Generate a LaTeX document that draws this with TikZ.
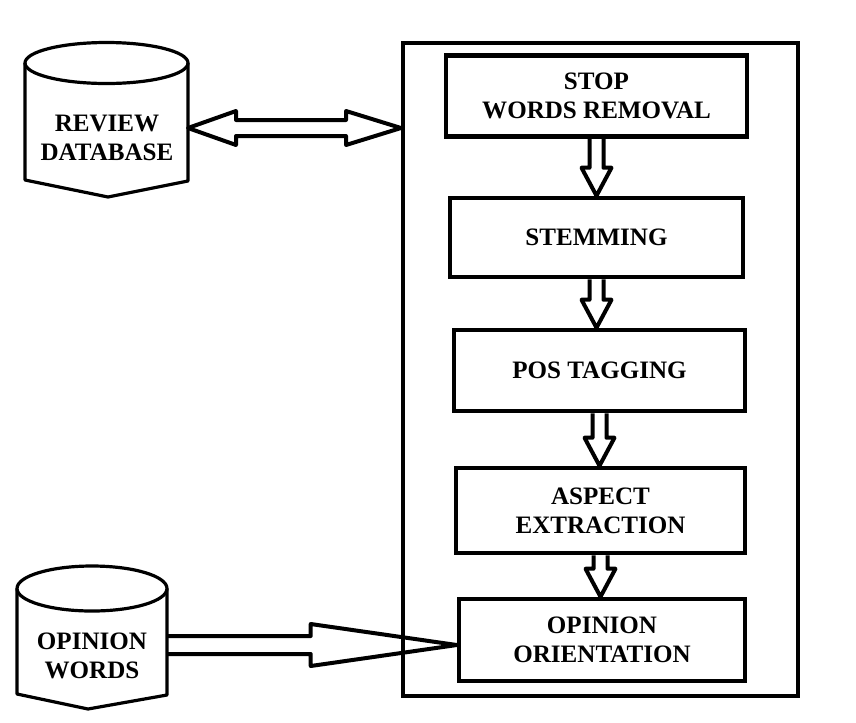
\documentclass[tikz,border=0pt]{standalone}
\usepackage{fontspec}
\setmainfont{Liberation Serif}
\usetikzlibrary{calc}

\begin{document}
\begin{tikzpicture}[x=0.75pt,y=-0.75pt,every node/.style={font=\fontsize{18.8}{21.75}\selectfont\bfseries,align=center},
    stage/.style={draw,rectangle,line width=3.4pt,inner sep=0pt},
    blk/.style={draw,line width=3pt,line join=round},
    dbline/.style={draw,line width=2.4pt,line join=round}]
            % El marco fija el tamano de la figura
            \useasboundingbox (0,0) rectangle (856,722);
            \node[draw,line width=3pt,minimum width=296.25pt,minimum height=489.75pt] (frame) at (600.5,369.5) {};

            % Etapas del proceso
            \node[stage,minimum width=225.75pt,minimum height=60.75pt] (stop) at (596.5,96) {STOP\\WORDS REMOVAL};
            \node[stage,minimum width=219.75pt,minimum height=59.25pt] (stem) at (596.5,237.5) {STEMMING};
            \node[stage,minimum width=218.25pt,minimum height=60.75pt] (pos) at (599.5,370.5) {POS TAGGING};
            \node[stage,minimum width=216.75pt,minimum height=63.75pt] (aspect) at (600.5,510.5) {ASPECT\\EXTRACTION};
            \node[stage,minimum width=214.5pt,minimum height=61.5pt] (orient) at (602,640) {OPINION\\ORIENTATION};

            % Bases de datos
            \draw[dbline] (106.5,63) ellipse [x radius=81.5,y radius=20.5];
            \draw[dbline] (25,63) -- (25,180) -- (108,197) -- (188,181) -- (188,63);
            \node (rdb) at (107,138) {REVIEW\\DATABASE};
            \coordinate (rdbport) at (188,128);

            \draw[dbline] (92,588.5) ellipse [x radius=75,y radius=22.5];
            \draw[dbline] (17,588.5) -- (17,694) -- (88,709) -- (167,695) -- (167,588.5);
            \node (ow) at (92,656) {OPINION\\WORDS};
            \coordinate (owport) at (167,645);

            % Flechas huecas entre etapas
            \foreach \a/\b in {stop/stem,stem/pos,pos/aspect,aspect/orient}
              \draw[blk] let \p1=(\a.south), \p2=(\b.north) in
                (\x1-5.25pt,\y1) -- (\x1-5.25pt,\y2+21pt) -- (\x1-11.25pt,\y2+21pt) -- (\x1,\y2)
                -- (\x1+11.25pt,\y2+21pt) -- (\x1+5.25pt,\y2+21pt) -- (\x1+5.25pt,\y1);

            \draw[blk] let \p1=(rdbport), \p2=(frame.west |- rdbport) in
                (\x1,\y1) -- (\x1+36pt,\y1+12.75pt) -- (\x1+36pt,\y1+6pt) -- (\x2-41.25pt,\y1+6pt)
                -- (\x2-41.25pt,\y1+12.75pt) -- (\x2,\y1) -- (\x2-41.25pt,\y1-12.75pt) -- (\x2-41.25pt,\y1-6pt)
                -- (\x1+36pt,\y1-6pt) -- (\x1+36pt,\y1-12.75pt) -- cycle;

            \draw[blk] let \p1=(owport), \p2=(orient.west |- owport) in
                (\x1,\y1+6.75pt) -- (\x2-109.5pt,\y1+6.75pt) -- (\x2-109.5pt,\y1+15.75pt) -- (\x2,\y1)
                -- (\x2-109.5pt,\y1-15.75pt) -- (\x2-109.5pt,\y1-6.75pt) -- (\x1,\y1-6.75pt);
        \end{tikzpicture}
\end{document}
